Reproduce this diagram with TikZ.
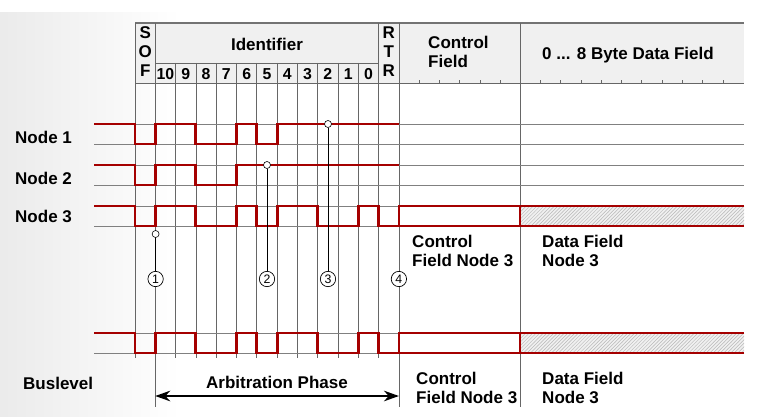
\documentclass[tikz,border=0pt]{standalone}
\usepackage{fontspec}
\setmainfont{Liberation Sans}
\usetikzlibrary{arrows.meta,patterns}
\definecolor{sigred}{RGB}{165,0,0}
\tikzset{
  gridline/.style={draw=black!60,line width=0.6pt},
  levelline/.style={draw=black!50,line width=0.6pt},
  sig/.style={draw=sigred,line width=2.4pt},
  lbl/.style={font=\bfseries\fontsize{14.5}{16.2}\selectfont,inner sep=0pt},
  bitno/.style={font=\bfseries\fontsize{13.5}{14}\selectfont,inner sep=0pt},
  dot/.style={circle,draw,fill=white,inner sep=0pt,minimum size=2.1mm,line width=0.5pt},
  num/.style={circle,draw,fill=white,inner sep=0pt,minimum size=4.6mm,line width=0.6pt,font=\fontsize{10.5}{10.5}\selectfont},
}
% signal of the winning node: #1 = recessive level, #2 = dominant level
\newcommand{\winner}[2]{%
  \draw[sig] (94,#1) -- (135,#1) -- (135,#2) -- (155.3,#2) -- (155.3,#1) -- (195.9,#1) -- (195.9,#2) -- (236.5,#2) -- (236.5,#1) -- (256.8,#1) -- (256.8,#2) -- (277.1,#2) -- (277.1,#1) -- (317.7,#1) -- (317.7,#2) -- (358.3,#2) -- (358.3,#1) -- (378.6,#1) -- (378.6,#2) -- (398.9,#2);
  \fill[black!6] (520,#1) rectangle (744,#2);
  \fill[pattern=north east lines,pattern color=black!28] (520,#1) rectangle (744,#2);
  \draw[sig] (398.9,#1) rectangle (520,#2);
  \draw[sig] (744,#1) -- (520,#1) (520,#2) -- (744,#2);
}

\begin{document}
\begin{tikzpicture}[x=0.3mm,y=-0.3mm]
\useasboundingbox (0,0) rectangle (757,416);
\shade[left color=black!8,right color=white] (0,13) rectangle (180,416);

% frame header
\fill[black!6] (135,23) rectangle (744,83);
\draw[black!55,line width=1pt] (135,23) -- (744,23);
\draw[gridline] (135,83) -- (744,83);
\draw[gridline] (155.3,63) -- (378.6,63);

% bit grid
\draw[gridline] (135,23) -- (135,358);
\draw[gridline] (155.3,23) -- (155.3,407);
\foreach \i in {2,...,11}
  \draw[gridline] ({135+20.3*\i},63) -- ({135+20.3*\i},358);
\draw[gridline] (378.6,23) -- (378.6,358);
\draw[gridline] (398.9,23) -- (398.9,407);
\draw[gridline] (520,23) -- (520,407);
\foreach \k in {1,...,5}
  \draw[gridline] ({398.9+20.3*\k},83) -- ++(0,-3);
\foreach \k in {1,...,10}
  \draw[gridline] ({520+20.3*\k},83) -- ++(0,-3);

% levels
\foreach \y in {124,144,165,185,206,226,333,353}
  \draw[levelline] (94,\y) -- (744,\y);

% header texts
\node[lbl,align=center] (sof) at (145.2,52) {S\\O\\F};
\node[lbl,align=center] (rtr) at (388.8,52) {R\\T\\R};
\node[lbl] (ident) at (267,44) {Identifier};
\foreach \b [count=\i] in {10,9,8,7,6,5,4,3,2,1,0}
  \node[bitno] (bit\b) at ({135+20.3*\i+10.15},74) {\b};
\node[lbl,align=left,anchor=west] (ctrl) at (428,52) {Control\\Field};
\node[lbl,anchor=west] (data) at (542,55) {0 ... 8 Byte Data Field};

% signals
\draw[sig] (94,124) -- (135,124) -- (135,144) -- (155.3,144) -- (155.3,124) -- (195.9,124) -- (195.9,144) -- (236.5,144) -- (236.5,124) -- (256.8,124) -- (256.8,144) -- (277.1,144) -- (277.1,124) -- (398.9,124);
\draw[sig] (94,165) -- (135,165) -- (135,185) -- (155.3,185) -- (155.3,165) -- (195.9,165) -- (195.9,185) -- (236.5,185) -- (236.5,165) -- (398.9,165);
\winner{206}{226}
\winner{333}{353}

\node[lbl,anchor=west] (n1) at (15,137) {Node 1};
\node[lbl,anchor=west] (n2) at (15,178) {Node 2};
\node[lbl,anchor=west] (n3) at (15,216) {Node 3};
\node[lbl,anchor=west] (bus) at (23,383) {Buslevel};

% arbitration marks
\node[dot] (sofdot) at (155.6,234) {};
\node[dot] (lost2) at (267,165) {};
\node[dot] (lost1) at (328,124) {};
\node[num] (c1) at (155.6,279) {1};
\node[num] (c2) at (267,279) {2};
\node[num] (c3) at (328,279) {3};
\node[num] (c4) at (398.9,279) {4};
\draw[line width=0.5pt] (sofdot) -- (c1);
\draw[line width=0.5pt] (lost2) -- (c2);
\draw[line width=0.5pt] (lost1) -- (c3);

\node[lbl,align=left,anchor=west] (ctrl3) at (412,251) {Control\\Field Node 3};
\node[lbl,align=left,anchor=west] (data3) at (542,251) {Data Field\\Node 3};
\node[lbl,align=left,anchor=west] (ctrlb) at (416,388) {Control\\Field Node 3};
\node[lbl,align=left,anchor=west] (datab) at (542,388) {Data Field\\Node 3};

% arbitration phase
\coordinate (arbL) at (155.3,396);
\coordinate (arbR) at (398.9,396);
\draw[{Stealth[length=4.5mm,width=3.2mm]}-{Stealth[length=4.5mm,width=3.2mm]},line width=1.2pt] (arbL) -- (arbR);
\node[lbl] (arb) at (277,382) {Arbitration Phase};
\end{tikzpicture}
\end{document}
